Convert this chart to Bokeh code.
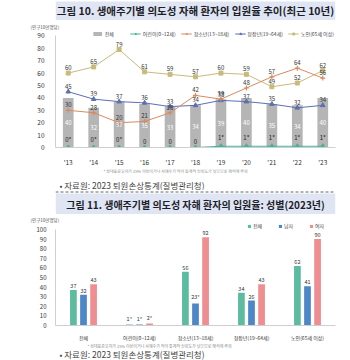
from bokeh.plotting import figure
from bokeh.models import (ColumnDataSource, FactorRange, Range1d, FixedTicker, LabelSet, Label,
                          Legend, LegendItem, BoxAnnotation, Span, Title)
from bokeh.layouts import column
from bokeh.transform import dodge
from bokeh.core.properties import value
from bokeh.embed import file_html
from bokeh.resources import INLINE

FONT = "Noto Sans CJK KR"
BAND = "#dfe5f3"

# ---------------- Chart 1 data ----------------
years = ["'13", "'14", "'15", "'16", "'17", "'18", "'19", "'20", "'21", "'22", "'23"]
total_rate = [40, 32, 37, 35, 33, 34, 39, 40, 35, 34, 40]
child_rate = [0, 0, 0, 0, 0, 0, 1, 1, 1, 1, 1]
child_text = ["0*", "0*", "0*", "0", "0", "0", "1*", "1*", "1*", "1*", "1*"]
youth_rate = [30, 28, 20, 21, 28, 42, 39, 48, 57, 64, 56]
adult_rate = [45, 39, 37, 36, 33, 34, 38, 37, 35, 32, 34]
senior_rate = [60, 65, 79, 61, 59, 57, 60, 59, 49, 52, 62]
series_names = ["전체", "어린이(0~12세)", "청소년(13~18세)", "청장년(19~64세)", "노인(65세 이상)"]
y1_ticks = [0, 10, 20, 30, 40, 50, 60, 70, 80, 90]

# ---------------- Chart 2 data ----------------
groups = ["전체", "어린이(0~12세)", "청소년(13~18세)", "청장년(19~64세)", "노인(65세 이상)"]
all_2023 = [37, 1, 56, 34, 62]
male_2023 = [32, 1, 23, 26, 41]
female_2023 = [43, 2, 92, 43, 90]
all_text = ["37", "1*", "56", "34", "62"]
male_text = ["32", "1*", "23*", "26", "41"]
female_text = ["43", "2*", "92", "43", "90"]
sex_names = ["전체", "남자", "여자"]
y2_ticks = [0, 10, 20, 30, 40, 50, 60, 70, 80, 90, 100]

TITLE1 = "그림 10. 생애주기별 의도성 자해 환자의 입원율 추이(최근 10년)"
TITLE2 = "그림 11. 생애주기별 의도성 자해 환자의 입원율: 성별(2023년)"
SOURCE = "• 자료원: 2023 퇴원손상통계(질병관리청)"
FOOT = "* 상대표준오차가 25% 이상이거나 사례수가 적어 통계적 신뢰도가 낮으므로 해석에 주의"
YUNIT = "(인구10만명당)"

C_BAR = "#b5b5b5"
C_CHILD = "#45b39a"
C_YOUTH = "#d98a5e"
C_ADULT = "#5b70b3"
C_SENIOR = "#c9ba7c"
C_ALL2 = "#5cbca0"
C_MALE2 = "#4d87c7"
C_FEM2 = "#ee8e90"


def blank(h):
    p = figure(width=350, height=h, x_range=Range1d(0, 350), y_range=Range1d(0, h),
               x_axis_type=None, y_axis_type=None, toolbar_location=None,
               output_backend="svg", min_border=0)
    p.outline_line_color = None
    p.background_fill_color = "white"
    p.border_fill_color = "white"
    return p


def band(title, h, fill_top, text_y, size, dashed_y=None):
    p = blank(h)
    p.add_layout(BoxAnnotation(bottom=0, top=fill_top, fill_color=BAND, fill_alpha=1,
                               line_color=None))
    if dashed_y is not None:
        p.add_layout(Span(location=dashed_y, dimension="width", line_color="#666666",
                          line_width=1, line_dash="3 2"))
    p.add_layout(Label(x=175, y=text_y, text=title, text_align="center",
                       text_baseline="middle", text_font=FONT, text_font_style="bold",
                       text_font_size=size, text_color="#1e1e2a"))
    return p


def src_fig(h, foot_x, foot_y, src_y):
    p = blank(h)
    p.add_layout(Label(x=foot_x, y=foot_y, text=FOOT, text_font=FONT, text_font_size="4px",
                       text_color="#8a8a8a", text_baseline="middle"))
    p.add_layout(Label(x=5, y=src_y, text=SOURCE, text_font=FONT, text_font_size="8.5px",
                       text_color="#444444", text_baseline="middle"))
    return p


def style_axes(p, tick_list, top):
    p.outline_line_color = None
    p.xgrid.visible = False
    p.ygrid.visible = False
    p.yaxis.ticker = FixedTicker(ticks=tick_list)
    p.yaxis.bounds = (0, top)
    for ax in (p.xaxis[0], p.yaxis[0]):
        ax.axis_line_color = "#cfcfcf"
        ax.major_tick_line_color = None
        ax.minor_tick_line_color = None
        ax.major_label_text_font = FONT
        ax.major_label_text_color = "#333333"


def unit_title(offset):
    return Title(text=YUNIT, align="left", offset=offset, standoff=0,
                 text_font=FONT, text_font_size="4.5px", text_font_style="normal",
                 text_color="#555555")


# ---------------- Band 1 ----------------
band1 = band(TITLE1, 20, 19, 10.5, "10.5px")

# ---------------- Chart 1 ----------------
src1 = ColumnDataSource(dict(
    year=years,
    total=total_rate, total_lbl=[str(v) for v in total_rate],
    total_mid=[v * 0.5 for v in total_rate],
    child=child_rate, child_lbl=child_text,
    youth=youth_rate, youth_lbl=[str(v) for v in youth_rate],
    adult=adult_rate, adult_lbl=[str(v) for v in adult_rate],
    senior=senior_rate, senior_lbl=[str(v) for v in senior_rate],
))

p1 = figure(width=350, height=149, x_range=FactorRange(factors=years, range_padding=0),
            y_range=Range1d(0, 95.16), toolbar_location=None, output_backend="svg",
            min_border_left=55, min_border_right=0, min_border_top=9, min_border_bottom=11)
p1.background_fill_color = "white"
p1.border_fill_color = "white"
style_axes(p1, y1_ticks, 90)
p1.yaxis.major_label_text_font_size = "6.5px"
p1.yaxis.major_label_standoff = 5
p1.xaxis.major_label_text_font_size = "6.5px"
p1.xaxis.major_label_standoff = 3
p1.add_layout(unit_title(-25), "above")

r_bar = p1.vbar(x="year", top="total", width=0.42, source=src1, fill_color=C_BAR,
                line_color=None)
r_sl = p1.line("year", "senior", source=src1, line_color=C_SENIOR, line_width=1)
r_ss = p1.scatter("year", "senior", source=src1, marker="square", size=4,
                  fill_color=C_SENIOR, line_color=C_SENIOR)
r_al = p1.line("year", "adult", source=src1, line_color=C_ADULT, line_width=1)
r_as = p1.scatter("year", "adult", source=src1, marker="triangle", size=4.5,
                  fill_color=C_ADULT, line_color=C_ADULT)
r_yl = p1.line("year", "youth", source=src1, line_color=C_YOUTH, line_width=1)
r_ys = p1.scatter("year", "youth", source=src1, marker="cross", size=5,
                  line_color=C_YOUTH, line_width=1.2)
r_cl = p1.line("year", "child", source=src1, line_color=C_CHILD, line_width=1.2)
r_cs = p1.scatter("year", "child", source=src1, marker="diamond", size=5,
                  fill_color=C_CHILD, line_color=C_CHILD)

lbl_common = dict(source=src1, text_align="center", text_font=value(FONT),
                  text_font_size="6px")
p1.add_layout(LabelSet(x="year", y="senior", text="senior_lbl", y_offset=3,
                       text_baseline="bottom", text_color="#333333", **lbl_common))
p1.add_layout(LabelSet(x="year", y="adult", text="adult_lbl", y_offset=3,
                       text_baseline="bottom", text_color="#333333", **lbl_common))
p1.add_layout(LabelSet(x="year", y="youth", text="youth_lbl", y_offset=3,
                       text_baseline="bottom", text_color="#333333", **lbl_common))
p1.add_layout(LabelSet(x="year", y="child", text="child_lbl", y_offset=4,
                       text_baseline="bottom", text_color="#222222", **lbl_common))
p1.add_layout(LabelSet(x="year", y="total_mid", text="total_lbl",
                       text_baseline="middle", text_color="white", **lbl_common))

leg1 = Legend(items=[
    LegendItem(label=series_names[0], renderers=[r_bar]),
    LegendItem(label=series_names[1], renderers=[r_cl, r_cs]),
    LegendItem(label=series_names[2], renderers=[r_yl, r_ys]),
    LegendItem(label=series_names[3], renderers=[r_al, r_as]),
    LegendItem(label=series_names[4], renderers=[r_sl, r_ss]),
], orientation="horizontal", location="top_right", label_text_font=FONT,
    label_text_font_size="5px", label_text_color="#444444", glyph_width=11, glyph_height=5,
    label_height=5, label_standoff=2, spacing=5, padding=0, margin=1,
    background_fill_alpha=0, border_line_color=None)
p1.add_layout(leg1)

src_a = src_fig(21, 60, 19.5, 6)

# ---------------- Band 2 ----------------
band2 = band(TITLE2, 24, 21, 10.5, "10px", dashed_y=22.5)

# ---------------- Chart 2 ----------------
src2 = ColumnDataSource(dict(group=groups, all=all_2023, male=male_2023, female=female_2023,
                             all_lbl=all_text, male_lbl=male_text, female_lbl=female_text))

p2 = figure(width=350, height=129, x_range=FactorRange(factors=groups, range_padding=0),
            y_range=Range1d(0, 107.3), toolbar_location=None, output_backend="svg",
            min_border_left=33, min_border_right=15, min_border_top=6, min_border_bottom=10)
p2.background_fill_color = "white"
p2.border_fill_color = "white"
style_axes(p2, y2_ticks, 100)
p2.yaxis.major_label_text_font_size = "6px"
p2.yaxis.major_label_standoff = 3
p2.xaxis.major_label_text_font_size = "5px"
p2.xaxis.major_label_standoff = 2
p2.add_layout(unit_title(-25), "above")

bars2 = []
for col, off, colr in (("all", -0.18, C_ALL2), ("male", 0.0, C_MALE2), ("female", 0.18, C_FEM2)):
    r = p2.vbar(x=dodge("group", off, range=p2.x_range), top=col, width=0.12, source=src2,
                fill_color=colr, line_color=None)
    bars2.append(r)
    p2.add_layout(LabelSet(x=dodge("group", off, range=p2.x_range), y=col, text=col + "_lbl",
                           y_offset=2, source=src2, text_align="center",
                           text_baseline="bottom", text_font=value(FONT),
                           text_font_size="5.5px", text_color="#333333"))

leg2 = Legend(items=[LegendItem(label=n, renderers=[r]) for n, r in zip(sex_names, bars2)],
              orientation="horizontal", location="top_right", label_text_font=FONT,
              label_text_font_size="5px", label_text_color="#444444", glyph_width=4,
              glyph_height=4, label_height=5, label_standoff=2, spacing=5, padding=0,
              margin=0, background_fill_alpha=0, border_line_color=None)
p2.add_layout(leg2)

src_b = src_fig(17, 40, 15, 7)

layout = column(band1, p1, src_a, band2, p2, src_b, spacing=0)
open("out.html", "w").write(file_html(layout, INLINE))
